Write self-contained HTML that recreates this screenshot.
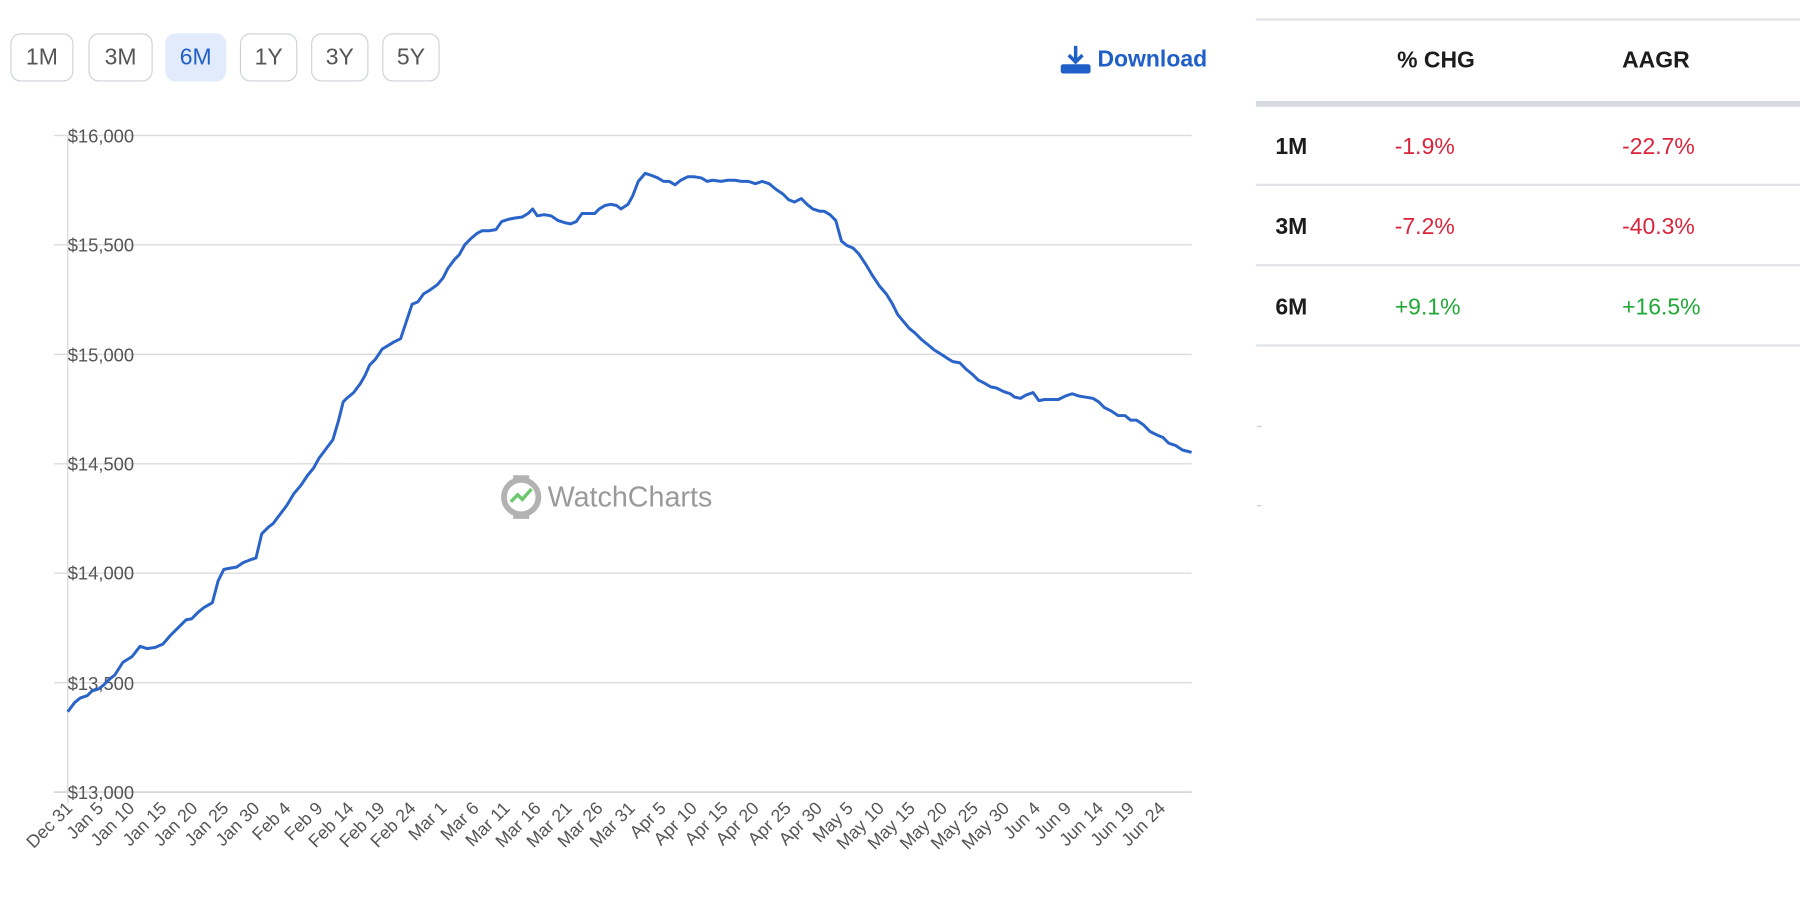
<!DOCTYPE html>
<html><head><meta charset="utf-8"><style>
html,body{margin:0;padding:0;background:#fff;width:1800px;height:908px;overflow:hidden}
#w{position:absolute;left:0;top:0;width:1568px;height:791px;transform:scale(1.14796);transform-origin:0 0;font-family:"Liberation Sans",sans-serif}
.b{position:absolute;top:29px;height:42px;border:1.5px solid #cdd2d9;border-radius:9px;font-size:20px;color:#555;display:flex;align-items:center;justify-content:center;box-sizing:border-box}
.t{position:absolute;font-size:20px}
.r{color:#d9243c}.g{color:#22a837}
.h{font-weight:bold;color:#1c1c1c}
.ln{position:absolute;left:1094px;width:474px;height:2px;background:#e1e4e8}
</style></head><body><div id="w">
<div class="b" style="left:9px;width:55px">1M</div>
<div class="b" style="left:77px;width:56px">3M</div>
<div class="b" style="left:144px;width:53px;background:#e1ebfc;border-color:#e1ebfc;color:#1f5fc7">6M</div>
<div class="b" style="left:209px;width:50px">1Y</div>
<div class="b" style="left:271px;width:50px">3Y</div>
<div class="b" style="left:333px;width:50px">5Y</div>
<svg style="position:absolute;left:923px;top:39px" width="28" height="26" viewBox="0 0 28 26"><path d="M14 1v14M8 9l6 6 6-6" stroke="#1f5fc7" stroke-width="3" fill="none"/><rect x="1" y="17" width="26" height="8" rx="2" fill="#1f5fc7"/></svg>
<div class="t" style="left:956px;top:41px;font-weight:bold;color:#1f5fc7">Download</div>

<div class="ln" style="top:16px"></div>
<div class="t h" style="left:1217px;top:42px">% CHG</div>
<div class="t h" style="left:1413px;top:42px">AAGR</div>
<div class="ln" style="top:88px;height:5px;background:#d6d9de"></div>
<div class="t h" style="left:1111px;top:117px">1M</div><div class="t r" style="left:1215px;top:117px">-1.9%</div><div class="t r" style="left:1413px;top:117px">-22.7%</div>
<div class="ln" style="top:160px"></div>
<div class="t h" style="left:1111px;top:187px">3M</div><div class="t r" style="left:1215px;top:187px">-7.2%</div><div class="t r" style="left:1413px;top:187px">-40.3%</div>
<div class="ln" style="top:230px"></div>
<div class="t h" style="left:1111px;top:257px">6M</div><div class="t g" style="left:1215px;top:257px">+9.1%</div><div class="t g" style="left:1413px;top:257px">+16.5%</div>
<div class="ln" style="top:300px"></div>
<div style="position:absolute;left:1095px;top:371px;width:4px;height:1px;background:#ccc"></div>
<div style="position:absolute;left:1095px;top:440px;width:4px;height:1px;background:#ccc"></div>

<svg style="position:absolute;left:0;top:0" width="1090" height="791" font-family="Liberation Sans, sans-serif">
<g stroke="#dcdcdc" stroke-width="1.2">
<line x1="47" y1="118" x2="1038" y2="118"/><line x1="47" y1="213.3" x2="1038" y2="213.3"/><line x1="47" y1="308.7" x2="1038" y2="308.7"/><line x1="47" y1="404" x2="1038" y2="404"/><line x1="47" y1="499.3" x2="1038" y2="499.3"/><line x1="47" y1="594.7" x2="1038" y2="594.7"/><line x1="47" y1="690" x2="1038" y2="690" stroke="#ccc"/>
<line x1="59" y1="118" x2="59" y2="700"/>
</g>
<g font-size="16" fill="#555">
<text x="59" y="124">$16,000</text><text x="59" y="219">$15,500</text><text x="59" y="315">$15,000</text><text x="59" y="410">$14,500</text><text x="59" y="505">$14,000</text><text x="59" y="601">$13,500</text><text x="59" y="696">$13,000</text>
</g>
<g fill="#bbb" opacity="0.9"><circle cx="454" cy="433" r="15" fill="none" stroke="#aaa" stroke-width="5"/><rect x="447" y="414" width="14" height="5" fill="#aaa"/><rect x="447" y="447" width="14" height="5" fill="#aaa"/><path d="M445 437l6-6 4 4 8-9" stroke="#5cc25c" stroke-width="3" fill="none"/></g>
<text x="477" y="441" font-size="25" fill="#9a9a9a">WatchCharts</text>
<polyline fill="none" stroke="#2a64c8" stroke-width="2.6" stroke-linejoin="round" points="59,620 65,612 70,608 76,606 80,602 86,600 90,597 95,592 100,588 107,577 115,572 122,563 128,565 135,564 142,561 148,554 155,547 162,540 167,539 173,533 178,529 185,525 190,506 195,496 200,495 206,494 212,490 217,488 223,486 228,465 234,459 238,456 244,448 250,440 256,430 262,423 268,414 273,408 278,399 284,391 290,383 295,366 299,350 302,347 308,342 314,334 318,327 322,318 327,313 333,304 338,301 343,298 349,295 354,280 359,265 364,263 369,256 374,253 381,248 386,242 390,234 396,226 400,222 405,213 410,208 416,203 420,201 426,201 432,200 437,193 443,191 448,190 455,189 460,186 464,182 468,188 474,187 480,188 486,192 492,194 497,195 502,193 507,186 512,186 518,186 522,182 527,179 532,178 537,179 541,182 547,178 551,171 556,158 562,151 568,153 573,155 578,158 583,158 588,161 593,157 599,154 605,154 611,155 616,158 621,157 628,158 634,157 640,157 646,158 652,158 658,160 664,158 670,160 676,165 682,169 687,174 692,176 698,173 703,178 708,182 714,184 718,184 723,187 728,192 733,210 738,214 743,216 748,221 754,230 760,240 766,249 772,256 777,264 782,274 787,280 792,286 797,290 803,296 808,300 814,305 819,308 825,312 830,315 836,316 842,322 847,326 852,331 858,334 863,337 868,338 874,341 880,343 884,346 889,347 894,344 900,342 905,349 910,348 916,348 922,348 928,345 934,343 940,345 946,346 952,347 957,350 962,355 968,358 974,362 980,362 985,366 990,366 996,370 1002,376 1008,379 1013,381 1018,386 1024,388 1030,392 1038,394"/>
<g font-size="15.5" fill="#555" text-anchor="end">
<text transform="translate(64,705) rotate(-45)">Dec 31</text>
<text transform="translate(91,705) rotate(-45)">Jan 5</text>
<text transform="translate(118,705) rotate(-45)">Jan 10</text>
<text transform="translate(146,705) rotate(-45)">Jan 15</text>
<text transform="translate(173,705) rotate(-45)">Jan 20</text>
<text transform="translate(200,705) rotate(-45)">Jan 25</text>
<text transform="translate(227,705) rotate(-45)">Jan 30</text>
<text transform="translate(254,705) rotate(-45)">Feb 4</text>
<text transform="translate(282,705) rotate(-45)">Feb 9</text>
<text transform="translate(309,705) rotate(-45)">Feb 14</text>
<text transform="translate(336,705) rotate(-45)">Feb 19</text>
<text transform="translate(363,705) rotate(-45)">Feb 24</text>
<text transform="translate(390,705) rotate(-45)">Mar 1</text>
<text transform="translate(418,705) rotate(-45)">Mar 6</text>
<text transform="translate(445,705) rotate(-45)">Mar 11</text>
<text transform="translate(472,705) rotate(-45)">Mar 16</text>
<text transform="translate(499,705) rotate(-45)">Mar 21</text>
<text transform="translate(526,705) rotate(-45)">Mar 26</text>
<text transform="translate(554,705) rotate(-45)">Mar 31</text>
<text transform="translate(581,705) rotate(-45)">Apr 5</text>
<text transform="translate(608,705) rotate(-45)">Apr 10</text>
<text transform="translate(635,705) rotate(-45)">Apr 15</text>
<text transform="translate(662,705) rotate(-45)">Apr 20</text>
<text transform="translate(690,705) rotate(-45)">Apr 25</text>
<text transform="translate(717,705) rotate(-45)">Apr 30</text>
<text transform="translate(744,705) rotate(-45)">May 5</text>
<text transform="translate(771,705) rotate(-45)">May 10</text>
<text transform="translate(798,705) rotate(-45)">May 15</text>
<text transform="translate(826,705) rotate(-45)">May 20</text>
<text transform="translate(853,705) rotate(-45)">May 25</text>
<text transform="translate(880,705) rotate(-45)">May 30</text>
<text transform="translate(907,705) rotate(-45)">Jun 4</text>
<text transform="translate(934,705) rotate(-45)">Jun 9</text>
<text transform="translate(962,705) rotate(-45)">Jun 14</text>
<text transform="translate(989,705) rotate(-45)">Jun 19</text>
<text transform="translate(1016,705) rotate(-45)">Jun 24</text>
</g>
</svg>
</div></body></html>
